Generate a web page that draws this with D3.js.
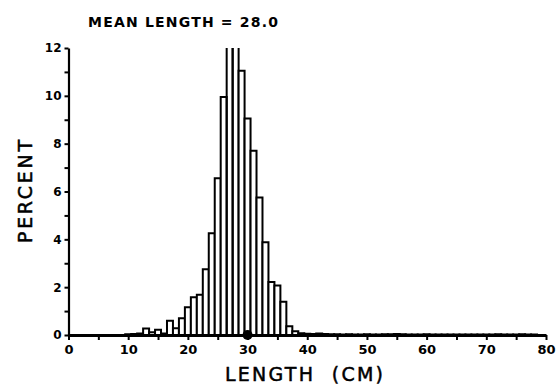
<!DOCTYPE html>
<html>
<head>
<meta charset="utf-8">
<script src="https://cdn.jsdelivr.net/npm/d3@7"></script>
<style>
  html, body { margin: 0; padding: 0; background: #fff; }
  svg { display: block; }
</style>
</head>
<body>
<svg id="chart" width="557" height="384"></svg>
<script>
// ---- data ----
const lengthBins = [10,11,12,13,14,15,16,17,18,19,20,21,22,23,24,25,26,27,28,29,30,31,32,33,34,35,36,37,38,39,40,41,42,43,44,45,46,47,48,49,50,51,52,53,54,55,56,57,58,59,60,61,62,63,64,65,66,67,68,69,70,71,72,73,74,75,76,77,78];
const percentValues = [0.03,0.04,0.06,0.27,0.12,0.22,0.06,0.60,0.28,0.70,1.16,1.58,1.68,2.75,4.25,6.55,9.95,13.8,12.9,11.05,9.05,7.70,5.75,3.88,2.22,2.07,1.39,0.37,0.16,0.07,0.05,0.04,0.06,0.04,0.03,0.03,0.02,0.03,0.02,0.02,0.03,0.02,0.02,0.03,0.03,0.04,0.03,0.02,0.02,0.02,0.03,0.02,0.02,0.02,0.02,0.02,0.02,0.02,0.02,0.02,0.02,0.02,0.03,0.02,0.02,0.02,0.03,0.02,0.02];
const xTickValues = [0,5,10,15,20,25,30,35,40,45,50,55,60,65,70,75,80];
const xTickLabels = ["0","","10","","20","","30","","40","","50","","60","","70","","80"];
const yTickValues = [0,1,2,3,4,5,6,7,8,9,10,11,12];
const yTickLabels = ["0","","2","","4","","6","","8","","10","","12"];
const markerLength = [30];
const titleText = "MEAN LENGTH = 28.0";
const xTitle = "LENGTH  (CM)";
const yTitle = "PERCENT";

// ---- drawing ----
const svg = d3.select("#chart");
const x = d3.scaleLinear().domain([0, 80]).range([68.5, 546]);
const y = d3.scaleLinear().domain([0, 12]).range([335, 48]);
const yMax = 12;

const tickFont = "'DejaVu Sans', sans-serif";

// bars
const bars = svg.append("g");
lengthBins.forEach((b, i) => {
  const v = percentValues[i];
  const x0 = x(b - 0.5), x1 = x(b + 0.5);
  const y0 = y(0);
  let d;
  if (v > yMax) {
    d = `M${x0},${y0}V${y(yMax)}M${x1},${y(yMax)}V${y0}`;
  } else {
    d = `M${x0},${y0}V${y(v)}H${x1}V${y0}`;
  }
  bars.append("path").attr("d", d)
    .attr("fill", "#fff").attr("stroke", "#000")
    .attr("stroke-width", 2).attr("stroke-linejoin", "miter");
});

// x axis
const xAxis = d3.axisBottom(x)
  .tickValues(xTickValues)
  .tickFormat((d, i) => xTickLabels[i])
  .tickSize(5).tickSizeOuter(0).tickPadding(5);
const gx = svg.append("g").attr("transform", `translate(0,${y(0)})`).call(xAxis);
gx.select(".domain").attr("stroke-width", 2.8).attr("stroke", "#000");
gx.selectAll(".tick line").attr("stroke-width", 2).attr("stroke", "#000");
gx.selectAll(".tick text").attr("font-family", tickFont).attr("font-weight", "bold")
  .attr("font-size", 13).attr("fill", "#000");

// y axis
const yAxis = d3.axisLeft(y)
  .tickValues(yTickValues)
  .tickFormat((d, i) => yTickLabels[i])
  .tickSize(4).tickSizeOuter(0).tickPadding(3);
const gy = svg.append("g").attr("transform", `translate(${x(0)},0)`).call(yAxis);
gy.select(".domain").attr("stroke-width", 2.2).attr("stroke", "#000");
gy.selectAll(".tick line").attr("stroke-width", 2).attr("stroke", "#000");
gy.selectAll(".tick text").attr("font-family", tickFont).attr("font-weight", "bold")
  .attr("font-size", 12).attr("fill", "#000");

// marker dot on axis
svg.selectAll("circle.marker").data(markerLength).enter().append("circle")
  .attr("class", "marker")
  .attr("cx", d => x(d)).attr("cy", y(0)).attr("r", 5).attr("fill", "#000");

// title
svg.append("text").attr("x", 88).attr("y", 27)
  .attr("font-family", tickFont).attr("font-weight", "bold").attr("font-size", 14)
  .attr("textLength", 190).attr("lengthAdjust", "spacing")
  .attr("fill", "#000").text(titleText);

// x title
svg.append("text").attr("x", 225).attr("y", 381)
  .attr("font-family", tickFont).attr("font-size", 19)
  .attr("stroke", "#000").attr("stroke-width", 0.5)
  .attr("textLength", 158).attr("lengthAdjust", "spacing")
  .attr("xml:space", "preserve").style("white-space", "pre")
  .attr("fill", "#000").text(xTitle);

// y title
svg.append("text")
  .attr("transform", "translate(32,243) rotate(-90)")
  .attr("font-family", tickFont).attr("font-size", 19)
  .attr("stroke", "#000").attr("stroke-width", 0.5)
  .attr("textLength", 103).attr("lengthAdjust", "spacing")
  .attr("fill", "#000").text(yTitle);
</script>
</body>
</html>
